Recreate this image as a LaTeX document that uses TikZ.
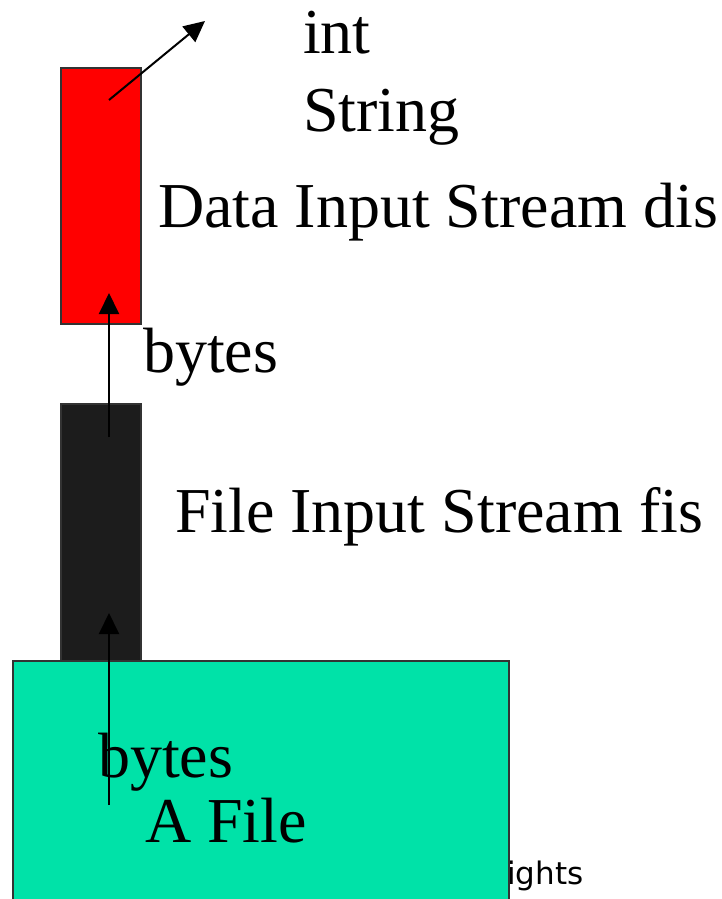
\documentclass[tikz,border=0pt]{standalone}
\usepackage{fontspec}
\setmainfont{Liberation Serif}
\newfontfamily\smallsans{DejaVu Sans}
\usetikzlibrary{arrows.meta}
\definecolor{boxred}{RGB}{255,0,0}
\definecolor{boxblack}{RGB}{28,28,28}
\definecolor{boxgreen}{RGB}{0,226,168}
\tikzset{
  blk/.style={draw=black!80, line width=1.4pt, inner sep=0pt, outer sep=0pt},
  lbl/.style={anchor=base west, inner sep=0pt, outer sep=0pt, font=\fontsize{64}{70}\selectfont},
  flow/.style={line width=2pt, -{Triangle[length=21pt,width=20pt]}}
}
\begin{document}
\begin{tikzpicture}[x=1pt,y=-1pt]
\useasboundingbox (0,0) rectangle (721,899);
\node[anchor=base west, inner sep=0pt, font=\smallsans\fontsize{31}{34}\selectfont] (copy) at (507,884) {ights};
\node[blk, fill=boxred, minimum width=80pt, minimum height=256pt] (red) at (101,196) {};
\node[blk, fill=boxblack, minimum width=80pt, minimum height=257pt] (blackbox) at (101,532.5) {};
\node[blk, fill=boxgreen, minimum width=496pt, minimum height=270pt] (green) at (261,796) {};
\node[lbl] (int) at (303,53) {int};
\node[lbl] (string) at (303,131) {String};
\node[lbl] (dis) at (158,227) {Data Input Stream dis};
\node[lbl] (bytes1) at (143,372) {bytes};
\node[lbl] (fis) at (175,532) {File Input Stream fis};
\node[lbl] (bytes2) at (98,777) {bytes};
\node[lbl] (afile) at (145,842) {A File};
\coordinate (a1s) at (109,100);
\coordinate (a1e) at (205,21);
\coordinate (a2s) at (109,437);
\coordinate (a2e) at (109,293);
\coordinate (a3s) at (109,805);
\coordinate (a3e) at (109,613);
\draw[flow] (a1s) -- (a1e);
\draw[flow] (a2s) -- (a2e);
\draw[flow] (a3s) -- (a3e);
\end{tikzpicture}
\end{document}
